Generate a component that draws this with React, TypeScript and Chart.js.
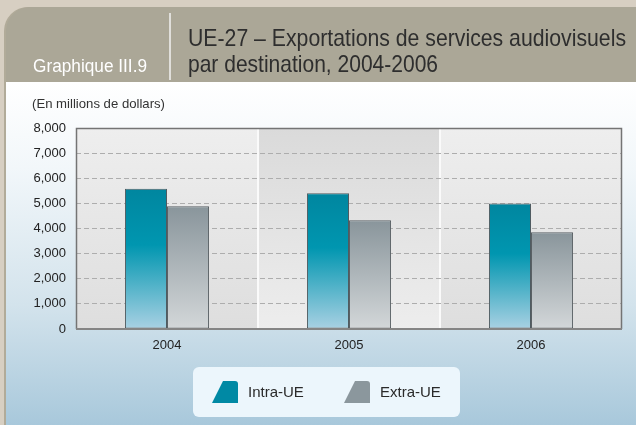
import React, { useEffect, useRef } from 'react';
import { Chart, registerables } from 'chart.js';

Chart.register(...registerables);

const chartId = 'Graphique III.9';
const titleLine1 = 'UE-27 – Exportations de services audiovisuels';
const titleLine2 = 'par destination, 2004-2006';
const unitLabel = '(En millions de dollars)';

const categories = ['2004', '2005', '2006'];
const seriesNames = ['Intra-UE', 'Extra-UE'];
const intraUE = [5580, 5400, 5000];
const extraUE = [4890, 4330, 3850];

const yMin = 0;
const yMax = 8000;
const yStep = 1000;

const FONT = "'Liberation Sans', Arial, sans-serif";
const NARROW = "'Liberation Sans Narrow', 'Liberation Sans', Arial, sans-serif";

function fitText(ctx: CanvasRenderingContext2D, text: string, x: number, y: number, width: number, font: string, color: string) {
  ctx.save();
  ctx.font = font;
  ctx.fillStyle = color;
  ctx.textAlign = 'left';
  ctx.textBaseline = 'alphabetic';
  const w = ctx.measureText(text).width;
  ctx.translate(x, y);
  ctx.scale(width / w, 1);
  ctx.fillText(text, 0, 0);
  ctx.restore();
}

function barGradient(ctx: any, kind: number) {
  const chart = ctx.chart;
  const area = chart.chartArea;
  if (!area || ctx.type !== 'data') return kind === 0 ? '#0090aa' : '#9aa4a9';
  const ys = chart.scales.y;
  const v = ctx.raw as number;
  const top = ys.getPixelForValue(v);
  const bottom = ys.getPixelForValue(0);
  const g = chart.ctx.createLinearGradient(0, top, 0, bottom);
  if (kind === 0) {
    g.addColorStop(0, '#00869f');
    g.addColorStop(0.4, '#0096b0');
    g.addColorStop(1, '#a9d1e3');
  } else {
    g.addColorStop(0, '#89959b');
    g.addColorStop(1, '#d3d7d9');
  }
  return g;
}

const backgroundPlugin = {
  id: 'panelBackground',
  beforeDraw(chart: any) {
    const ctx: CanvasRenderingContext2D = chart.ctx;
    const W = chart.width;
    const H = chart.height;
    ctx.save();
    ctx.fillStyle = '#d7cfc2';
    ctx.fillRect(0, 0, W, H);
    ctx.beginPath();
    (ctx as any).roundRect(4, 7, W + 20, H + 20, [24, 0, 0, 18]);
    ctx.fillStyle = '#b1ab99';
    ctx.fill();
    ctx.beginPath();
    (ctx as any).roundRect(6, 7, W + 20, H + 20, [24, 0, 0, 18]);
    ctx.save();
    ctx.clip();
    ctx.fillStyle = '#aba797';
    ctx.fillRect(0, 0, W, 82);
    const g = ctx.createLinearGradient(0, 82, 0, H);
    g.addColorStop(0, '#ffffff');
    g.addColorStop(0.25, '#f2f7fa');
    g.addColorStop(0.65, '#d3e3ec');
    g.addColorStop(1, '#a8c8db');
    ctx.fillStyle = g;
    ctx.fillRect(0, 82, W, H - 82);
    ctx.restore();

    ctx.strokeStyle = '#f2f2f2';
    ctx.lineWidth = 1.5;
    ctx.beginPath();
    ctx.moveTo(170, 13);
    ctx.lineTo(170, 80);
    ctx.stroke();

    fitText(ctx, chartId, 33, 72, 114, '18px ' + NARROW, '#ffffff');
    fitText(ctx, titleLine1, 188, 46, 438, '24px ' + NARROW, '#2e2e2e');
    fitText(ctx, titleLine2, 188, 72, 250, '24px ' + NARROW, '#2e2e2e');
    fitText(ctx, unitLabel, 32, 108, 133, '13px ' + NARROW, '#333333');

    const a = chart.chartArea;
    const xs = chart.scales.x;
    const n = categories.length;
    for (let i = 0; i < n; i++) {
      const x0 = i === 0 ? a.left : (xs.getPixelForValue(i - 1) + xs.getPixelForValue(i)) / 2;
      const x1 = i === n - 1 ? a.right : (xs.getPixelForValue(i) + xs.getPixelForValue(i + 1)) / 2;
      const bg = ctx.createLinearGradient(0, a.top, 0, a.bottom);
      if (i % 2 === 0) {
        bg.addColorStop(0, '#eeeeee');
        bg.addColorStop(1, '#dedede');
      } else {
        bg.addColorStop(0, '#dadada');
        bg.addColorStop(1, '#ededed');
      }
      ctx.fillStyle = bg;
      ctx.fillRect(x0, a.top, x1 - x0, a.bottom - a.top);
      if (i > 0) {
        ctx.fillStyle = '#fafafa';
        ctx.fillRect(x0 - 1, a.top, 2, a.bottom - a.top);
      }
    }
    ctx.restore();
  },
  afterDatasetsDraw(chart: any) {
    const ctx: CanvasRenderingContext2D = chart.ctx;
    const a = chart.chartArea;
    ctx.save();
    ctx.strokeStyle = '#747474';
    ctx.lineWidth = 1.5;
    ctx.beginPath();
    ctx.moveTo(a.left + 0.5, a.bottom);
    ctx.lineTo(a.left + 0.5, a.top + 0.5);
    ctx.lineTo(a.right - 0.5, a.top + 0.5);
    ctx.lineTo(a.right - 0.5, a.bottom);
    ctx.stroke();
    ctx.strokeStyle = '#858585';
    ctx.lineWidth = 2;
    ctx.beginPath();
    ctx.moveTo(a.left, a.bottom);
    ctx.lineTo(a.right, a.bottom);
    ctx.stroke();
    ctx.restore();
  },
  afterDraw(chart: any) {
    const ctx: CanvasRenderingContext2D = chart.ctx;
    ctx.save();
    ctx.beginPath();
    (ctx as any).roundRect(193, 367, 267, 50, 6);
    ctx.fillStyle = '#ecf6fc';
    ctx.fill();
    const colors = ['#0089a4', '#8b979d'];
    const sx = [212, 344];
    chart.data.datasets.forEach((ds: any, i: number) => {
      const x = sx[i];
      ctx.beginPath();
      ctx.moveTo(x, 403);
      ctx.lineTo(x + 11, 381);
      ctx.lineTo(x + 23, 381);
      ctx.quadraticCurveTo(x + 26, 381, x + 26, 384);
      ctx.lineTo(x + 26, 403);
      ctx.closePath();
      ctx.fillStyle = colors[i];
      ctx.fill();
      ctx.font = '15px ' + FONT;
      ctx.fillStyle = '#2a2a2a';
      ctx.textAlign = 'left';
      ctx.textBaseline = 'middle';
      ctx.fillText(ds.label, x + 36, 393);
    });
    ctx.restore();
  },
};

export default function App() {
  const ref = useRef<HTMLCanvasElement>(null);
  useEffect(() => {
    document.body.style.margin = '0';
    document.body.style.overflow = 'hidden';
    const canvas = ref.current!;
    const chart = new Chart(canvas, {
      type: 'bar',
      data: {
        labels: categories,
        datasets: [
          {
            label: seriesNames[0],
            data: intraUE,
            backgroundColor: (c: any) => barGradient(c, 0),
            borderColor: '#4f5b61',
            borderWidth: 1,
            borderSkipped: false,
            categoryPercentage: 0.462,
            barPercentage: 1,
          },
          {
            label: seriesNames[1],
            data: extraUE,
            backgroundColor: (c: any) => barGradient(c, 1),
            borderColor: '#5a6165',
            borderWidth: 1,
            borderSkipped: false,
            categoryPercentage: 0.462,
            barPercentage: 1,
          },
        ],
      },
      options: {
        responsive: false,
        animation: false,
        layout: { padding: { top: 128, right: 14, left: 0, bottom: 0 } },
        plugins: {
          legend: { display: false },
          title: { display: false },
          tooltip: { enabled: false },
        },
        scales: {
          x: {
            grid: { display: false, drawTicks: false },
            border: { display: false },
            ticks: { color: '#222222', font: { family: FONT, size: 13 }, padding: 9 },
            afterFit: (s: any) => { s.height = 96; },
          },
          y: {
            min: yMin,
            max: yMax,
            ticks: {
              stepSize: yStep,
              color: '#222222',
              font: { family: FONT, size: 13 },
              padding: 10,
              callback: (v: any) => Number(v).toLocaleString('en-US'),
            },
            grid: {
              drawTicks: false,
              color: (c: any) => (c.tick && (c.tick.value === yMin || c.tick.value === yMax) ? 'rgba(0,0,0,0)' : '#adadad'),
              lineWidth: 1,
            },
            border: { display: false, dash: [5, 3] },
            afterFit: (s: any) => { s.width = 76; },
          },
        },
      },
      plugins: [backgroundPlugin],
    } as any);
    return () => chart.destroy();
  }, []);
  return <canvas ref={ref} width={636} height={425} style={{ display: 'block' }} />;
}
